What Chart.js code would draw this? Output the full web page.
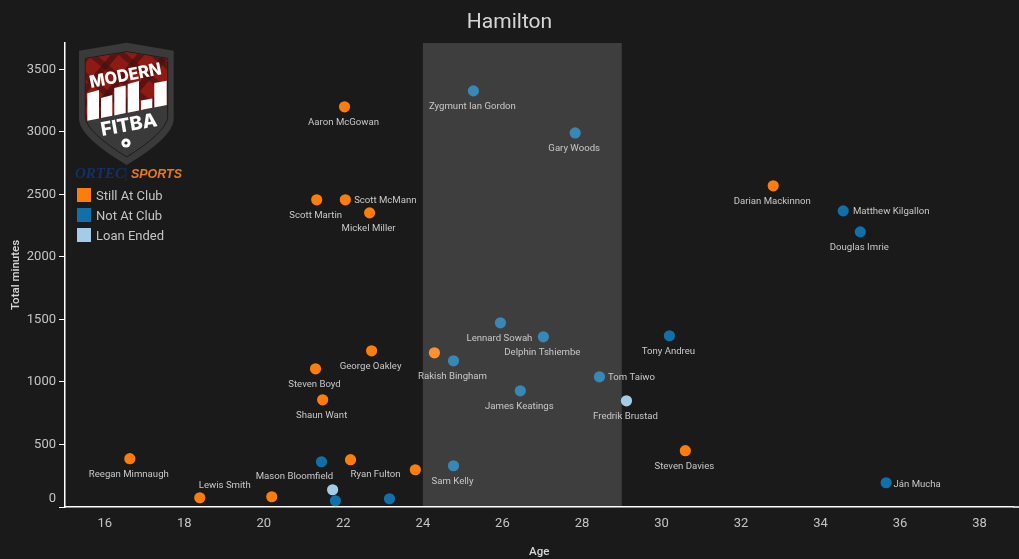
<!DOCTYPE html>
<html>
<head>
<meta charset="utf-8">
<title>Hamilton</title>
<script src="https://cdn.jsdelivr.net/npm/chart.js@4/dist/chart.umd.min.js"></script>
<style>
    html, body { margin: 0; padding: 0; background: #1a1a1a; overflow: hidden; }
    #wrap { position: relative; width: 1019px; height: 559px; }
    #logo { position: absolute; left: 0; top: 0; pointer-events: none; }
    .key { position: absolute; left: 77px; height: 14px; font: 13px Roboto, sans-serif; line-height: 14px; color: #c4c4c4; padding-left: 19px; }
    .key i { position: absolute; left: 0; top: 0; width: 14px; height: 14px; }
</style>
</head>
<body>
<div id="wrap">
    <canvas id="squadChart" width="1019" height="559"></canvas>
    <svg id="logo" width="200" height="190" viewBox="0 0 200 190">
        <defs>
            <pattern id="tartan" width="20" height="20" patternUnits="userSpaceOnUse" patternTransform="rotate(40)">
                <rect width="20" height="20" fill="#8e1a14"/>
                <rect width="6" height="20" fill="#3a0f0e" opacity="0.6"/>
                <rect width="20" height="6" fill="#3a0f0e" opacity="0.55"/>
            </pattern>
        </defs>
        <path d="M126.7 42.7 L173.7 50.7 L173.7 120 Q172 138 126.7 165 Q81 138 79 120 L79 50.7 Z" fill="#3a3a3a"/>
        <path d="M126.7 51.7 L167.7 58.3 L167.7 118 Q165 133 126.7 157 Q88 133 85.3 118 L85.3 58.3 Z" fill="#3a3a3a" stroke="#1c1c1c" stroke-width="1"/>
        <path d="M126.7 52.2 L167.2 58.8 L167.2 105 L85.8 121 L85.8 58.8 Z" fill="url(#tartan)"/>
        <g fill="#ffffff">
            <path d="M87.3 93.3 L99 90 L99 118.4 L87.3 120.7 Z"/>
            <path d="M101 98 L112.3 95 L112.3 115.8 L101 118 Z"/>
            <path d="M114.3 88 L125.7 85.5 L125.7 113.1 L114.3 115.4 Z"/>
            <path d="M127.7 84 L139 81 L139 110.5 L127.7 112.7 Z"/>
            <path d="M141 100.6 L152.3 98.5 L152.3 107.8 L141 110 Z"/>
            <path d="M154.3 83 L166.7 80.7 L166.7 105 L154.3 107.4 Z"/>
        </g>
        <text x="0" y="0" transform="translate(126.5 81) rotate(-11)" text-anchor="middle" textLength="73" lengthAdjust="spacingAndGlyphs" font-family="Inter" font-weight="800" font-size="17" fill="#ffffff">MODERN</text>
        <text x="0" y="0" transform="translate(130 131) rotate(-10)" text-anchor="middle" textLength="57" lengthAdjust="spacingAndGlyphs" font-family="Inter" font-weight="800" font-size="19" fill="#ffffff">FITBA</text>
        <circle cx="126" cy="143" r="4.6" fill="#ffffff"/>
        <circle cx="126" cy="143" r="1.6" fill="#2a2a2a"/>
        <text x="75" y="178" textLength="50" lengthAdjust="spacingAndGlyphs" font-family="Liberation Serif" font-style="italic" font-weight="700" font-size="14" fill="#12306a">ORTEC</text>
        <rect x="125.5" y="168" width="0.8" height="13" fill="#12306a"/>
        <text x="131" y="178" textLength="51" lengthAdjust="spacingAndGlyphs" font-family="Liberation Sans" font-style="italic" font-weight="700" font-size="13" fill="#e8791c">SPORTS</text>
    </svg>
    <div class="key" style="top:189px"><i style="top:-1px;background:#fc7d0b"></i>Still At Club</div>
    <div class="key" style="top:209px"><i style="top:-1px;background:#1170aa"></i>Not At Club</div>
    <div class="key" style="top:229px"><i style="top:-1px;background:#a3cce9"></i>Loan Ended</div>
</div>
<script>
"use strict";

// Data
const stillNames = ['Aaron McGowan', 'Scott Martin', 'Scott McMann', 'Mickel Miller', 'Darian Mackinnon', 'George Oakley', 'Steven Boyd', 'Shaun Want', '', 'Reegan Mimnaugh', '', 'Lewis Smith', 'Ryan Fulton', '', 'Steven Davies'];
const stillAges = [22.03, 21.33, 22.05, 22.66, 32.81, 22.71, 21.3, 21.48, 24.29, 16.63, 18.39, 20.2, 22.18, 23.81, 30.6];
const stillMinutes = [3200, 2456, 2456, 2352, 2568, 1249, 1105, 857, 1233, 386, 74, 82, 378, 298, 450];

const goneNames = ['Zygmunt Ian Gordon', 'Gary Woods', 'Matthew Kilgallon', 'Douglas Imrie', 'Lennard Sowah', 'Delphin Tshiembe', 'Tony Andreu', 'Rakish Bingham', 'Tom Taiwo', 'James Keatings', 'Sam Kelly', 'Mason Bloomfield', '', '', 'Ján Mucha'];
const goneAges = [25.27, 27.83, 34.57, 35.0, 25.95, 27.03, 30.2, 24.77, 28.44, 26.45, 24.77, 21.45, 21.8, 23.16, 35.65];
const goneMinutes = [3327, 2991, 2368, 2200, 1473, 1361, 1369, 1169, 1041, 929, 330, 362, 50, 66, 194];

const loanNames = ['Fredrik Brustad', ''];
const loanAges = [29.12, 21.73];
const loanMinutes = [849, 138];

const peakAges = [24, 29];
const yTickValues = [0, 500, 1000, 1500, 2000, 2500, 3000, 3500];
const xTickValues = [16, 18, 20, 22, 24, 26, 28, 30, 32, 34, 36, 38];

// Where a name sits against its point, default is just below
const labelShift = {
    'Scott McMann': [40, 0],
    'Matthew Kilgallon': [48, 0],
    'Tom Taiwo': [32, 0],
    'Lewis Smith': [-47, -12],
    'Mason Bloomfield': [-27, 14],
    'Ryan Fulton': [25, 14],
    'Ján Mucha': [31, 1]
};

const toPoints = (ages, minutes) => ages.map((age, i) => ({ x: age, y: minutes[i] }));
const toTicks = values => values.map(value => ({ value }));

const makeSet = (label, names, ages, minutes, color) => ({
    label,
    names,
    data: toPoints(ages, minutes),
    backgroundColor: color,
    borderWidth: 0,
    pointRadius: 5.6,
    pointHoverRadius: 5.6
});

// Peak age band goes over the points, names go over the band
const bandAndNames = {
    id: 'bandAndNames',
    afterDatasetsDraw(chart) {
        const { ctx, chartArea, scales } = chart;
        const left = scales.x.getPixelForValue(peakAges[0]);
        const right = scales.x.getPixelForValue(peakAges[1]);
        ctx.save();
        ctx.fillStyle = 'rgba(255, 255, 255, 0.16)';
        ctx.fillRect(left, chartArea.top, right - left, chartArea.bottom - chartArea.top - 1);

        // chart.js stops the axis a few pixels short, carry it on to the edge
        ctx.fillStyle = '#ffffff';
        ctx.fillRect(chartArea.right, chartArea.bottom - 0.75, chart.width - chartArea.right, 1.5);

        ctx.font = '9.6px Roboto, sans-serif';
        ctx.fillStyle = '#c8c8c8';
        ctx.textAlign = 'center';
        ctx.textBaseline = 'middle';
        chart.data.datasets.forEach((set, d) => {
            chart.getDatasetMeta(d).data.forEach((pt, i) => {
                const name = set.names[i];
                if (!name) return;
                const shift = labelShift[name] || [-1, 15];
                ctx.fillText(name, pt.x + shift[0], pt.y + shift[1] + 1);
            });
        });
        ctx.restore();
    }
};

new Chart(document.getElementById('squadChart').getContext('2d'), {
    type: 'scatter',
    data: {
        datasets: [
            makeSet('Still At Club', stillNames, stillAges, stillMinutes, '#fc7d0b'),
            makeSet('Not At Club', goneNames, goneAges, goneMinutes, '#1170aa'),
            makeSet('Loan Ended', loanNames, loanAges, loanMinutes, '#a3cce9')
        ]
    },
    options: {
        responsive: false,
        animation: false,
        layout: { padding: 0 },
        plugins: {
            legend: { display: false },
            tooltip: { enabled: false },
            title: {
                display: true,
                text: 'Hamilton',
                color: '#d6d6d6',
                font: { family: 'Roboto, sans-serif', size: 21, weight: 'normal', lineHeight: 1.2 },
                padding: { top: 10.5, bottom: 7.3 }
            }
        },
        scales: {
            x: {
                type: 'linear',
                min: 15,
                max: 38.85,
                afterBuildTicks: scale => { scale.ticks = toTicks(xTickValues); },
                afterFit: scale => { scale.height = 52; },
                border: { color: '#ffffff', width: 1.5 },
                grid: { drawOnChartArea: false, drawTicks: false },
                ticks: {
                    padding: 9,
                    color: '#c4c4c4',
                    maxRotation: 0,
                    autoSkip: false,
                    font: { family: 'Roboto, sans-serif', size: 13 }
                },
                title: {
                    display: true,
                    text: 'Age',
                    color: '#d8d8d8',
                    padding: { top: 11, bottom: 0 },
                    font: { family: 'Roboto, sans-serif', size: 11.5, weight: '500' }
                }
            },
            y: {
                type: 'linear',
                min: 0,
                max: 3710,
                afterBuildTicks: scale => { scale.ticks = toTicks(yTickValues); },
                afterFit: scale => { scale.width = 65; },
                border: { color: '#ffffff', width: 1.5 },
                grid: { drawOnChartArea: false, color: '#ffffff', tickLength: 6, lineWidth: 1 },
                ticks: {
                    padding: 3,
                    color: '#c4c4c4',
                    autoSkip: false,
                    font: { family: 'Roboto, sans-serif', size: 13 },
                    // the zero label sits a little above the axis line
                    callback: value => (value === 0 ? ['0', ''] : String(value))
                },
                title: {
                    display: true,
                    text: 'Total minutes',
                    color: '#d8d8d8',
                    padding: { top: 9, bottom: 0 },
                    font: { family: 'Roboto, sans-serif', size: 11.5, weight: '500' }
                }
            }
        }
    },
    plugins: [bandAndNames]
});
</script>
</body>
</html>
